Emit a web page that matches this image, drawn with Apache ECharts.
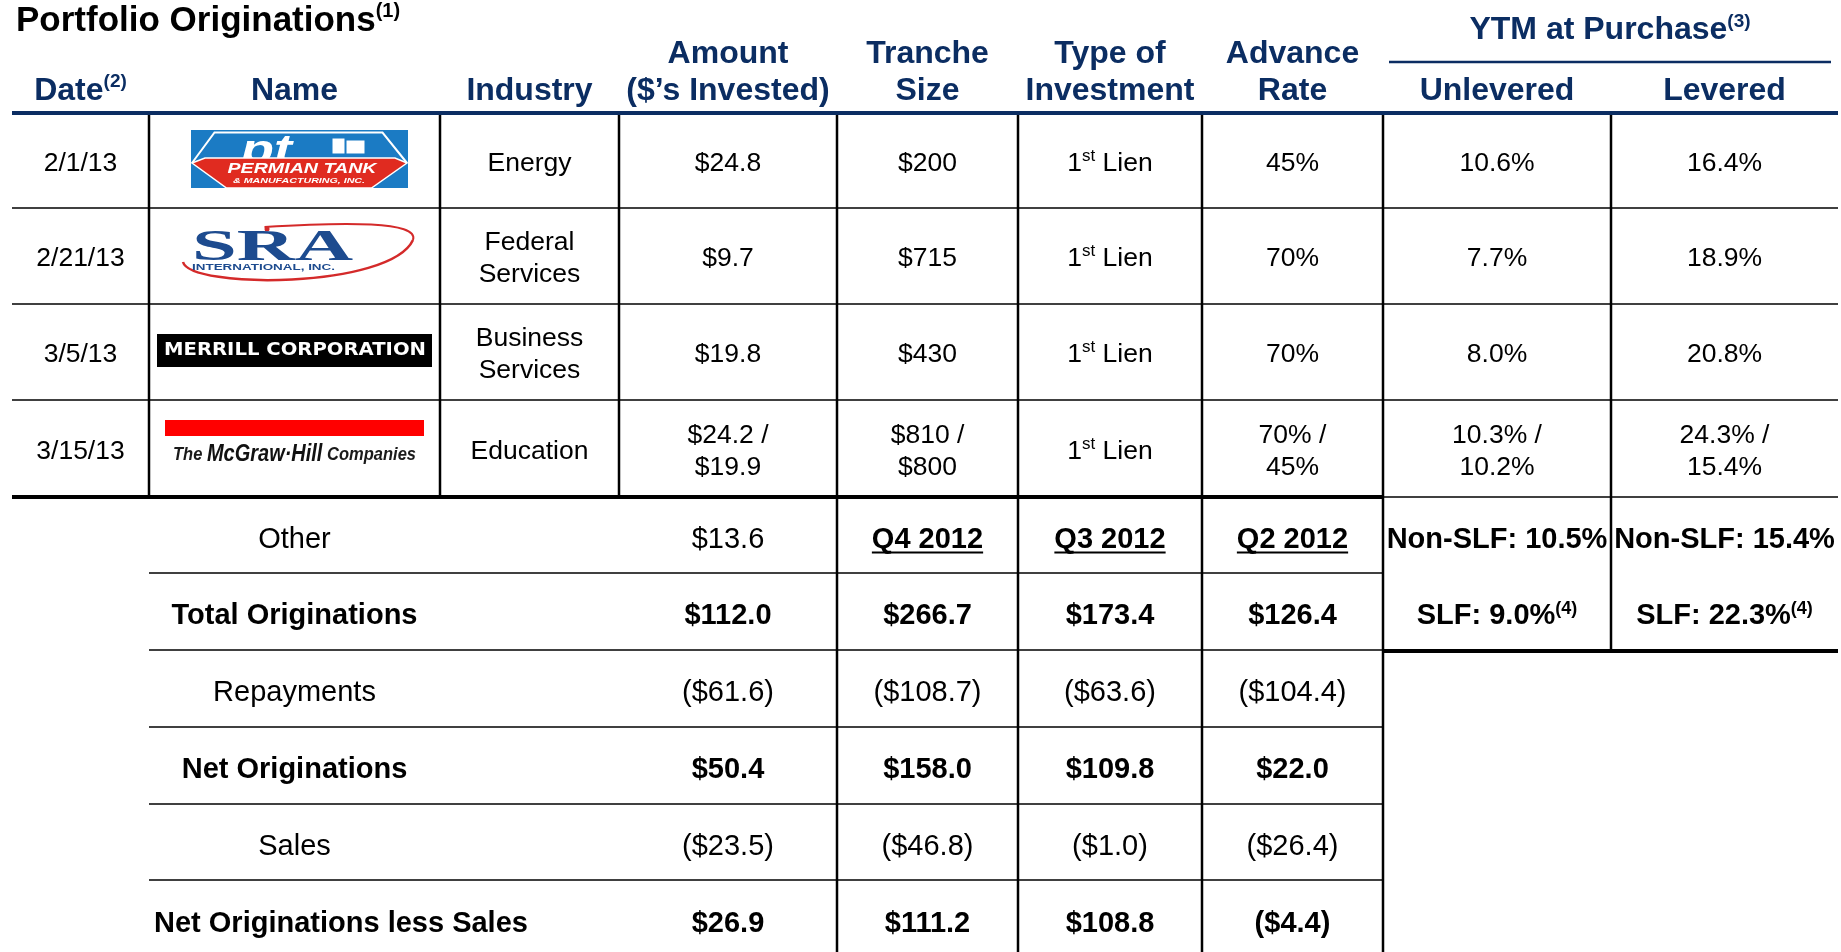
<!DOCTYPE html>
<html>
<head>
<meta charset="utf-8">
<title>Portfolio Originations</title>
<script src="https://cdn.jsdelivr.net/npm/echarts@6/dist/echarts.min.js"></script>
<style>
  html, body { margin: 0; padding: 0; background: #fff; }
  #main { width: 1841px; height: 952px; }
</style>
</head>
<body>
<div id="main"></div>
<script>
// ---- table content ----
var title = 'Portfolio Originations{sup|(1)}';
var ytmHeader = 'YTM at Purchase{sup|(3)}';
var headers = ['Date{sup|(2)}', 'Name', 'Industry', 'Amount\n($\u2019s Invested)', 'Tranche\nSize',
  'Type of\nInvestment', 'Advance\nRate', 'Unlevered', 'Levered'];

var dates = ['2/1/13', '2/21/13', '3/5/13', '3/15/13'];
var names = ['Permian Tank', 'SRA International', 'Merrill Corporation', 'McGraw-Hill'];
var industries = ['Energy', 'Federal\nServices', 'Business\nServices', 'Education'];
var amounts = ['$24.8', '$9.7', '$19.8', '$24.2 /\n$19.9'];
var tranches = ['$200', '$715', '$430', '$810 /\n$800'];
var investTypes = ['1{sup|st} Lien', '1{sup|st} Lien', '1{sup|st} Lien', '1{sup|st} Lien'];
var advanceRates = ['45%', '70%', '70%', '70% /\n45%'];
var unlevered = ['10.6%', '7.7%', '8.0%', '10.3% /\n10.2%'];
var levered = ['16.4%', '18.9%', '20.8%', '24.3% /\n15.4%'];

var quarters = ['Q4 2012', 'Q3 2012', 'Q2 2012'];
var summaryLabels = ['Other', 'Total Originations', 'Repayments', 'Net Originations', 'Sales', 'Net Originations less Sales'];
var summaryBold = [false, true, false, true, false, true];
var summaryCurrent = ['$13.6', '$112.0', '($61.6)', '$50.4', '($23.5)', '$26.9'];
var summaryQ4 = [null, '$266.7', '($108.7)', '$158.0', '($46.8)', '$111.2'];
var summaryQ3 = [null, '$173.4', '($63.6)', '$109.8', '($1.0)', '$108.8'];
var summaryQ2 = [null, '$126.4', '($104.4)', '$22.0', '($26.4)', '($4.4)'];
var ytmUnleveredSplit = ['Non-SLF: 10.5%', 'SLF: 9.0%{sup|(4)}'];
var ytmLeveredSplit = ['Non-SLF: 15.4%', 'SLF: 22.3%{sup|(4)}'];

// ---- layout ----
var FONT = '"Liberation Sans", Arial, Helvetica, sans-serif';
var NAVY = '#0B2D62';
var W = 1841, H = 952;
var colEdges = [12, 149, 440, 619, 837, 1018, 1202, 1383, 1611, 1838];
var bodyRows = [113, 208, 304, 400, 497];
var sumRows = [497, 573, 650, 727, 804, 880, 958];
function colMid(i) { return (colEdges[i] + colEdges[i + 1]) / 2; }
function mid(arr, i) { return (arr[i] + arr[i + 1]) / 2; }
var TEXT_DY = 3;

var measureCtx = document.createElement('canvas').getContext('2d');
function textWidth(str, size, weight, style, family) {
  measureCtx.font = (style || 'normal') + ' ' + (weight || 'normal') + ' ' + size + 'px ' + (family || FONT);
  return measureCtx.measureText(str).width;
}

// text cells
var cells = [];
function addCell(x, y, text, o) {
  o = o || {};
  cells.push({
    x: x, y: y + TEXT_DY, text: text,
    size: o.size || 27, bold: !!o.bold, color: o.color || '#000',
    align: o.align || 'center', lh: o.lh || 32, supSize: o.supSize || 17,
    underline: !!o.underline
  });
}

addCell(16, 18, title, { size: 35, bold: true, align: 'left', lh: 40, supSize: 20 });
addCell((1389 + 1831) / 2, 27, ytmHeader, { size: 32, bold: true, color: NAVY, lh: 36, supSize: 19 });
headers.forEach(function (h, i) {
  var n = h.split('\n').length;
  addCell(colMid(i), 88 - (n - 1) * 18.5, h, { size: 32, bold: true, color: NAVY, lh: 37, supSize: 19 });
});

for (var r = 0; r < dates.length; r++) {
  var y = mid(bodyRows, r);
  [dates, null, industries, amounts, tranches, investTypes, advanceRates, unlevered, levered].forEach(function (arr, c) {
    if (arr) addCell(colMid(c), y, arr[r], { size: 26.5 });
  });
}

summaryLabels.forEach(function (lab, r) {
  var y = mid(sumRows, r) + 1.5;
  var bw = summaryBold[r] ? 'bold' : 'normal';
  var wide = textWidth(lab, 29, bw) > colEdges[2] - colEdges[1] - 10;
  addCell(wide ? colEdges[1] + 5 : colMid(1), y, lab, { size: 29, bold: summaryBold[r], align: wide ? 'left' : 'center' });
  addCell(colMid(3), y, summaryCurrent[r], { size: 29, bold: summaryBold[r] });
  [summaryQ4, summaryQ3, summaryQ2].forEach(function (arr, q) {
    if (arr[r] != null) addCell(colMid(4 + q), y, arr[r], { size: 29, bold: summaryBold[r] });
    else addCell(colMid(4 + q), y, quarters[q], { size: 29, bold: true, underline: true });
  });
});
ytmUnleveredSplit.forEach(function (t, r) { addCell(colMid(7), mid(sumRows, r) + 1.5, t, { size: 29, bold: true, supSize: 18 }); });
ytmLeveredSplit.forEach(function (t, r) { addCell(colMid(8), mid(sumRows, r) + 1.5, t, { size: 29, bold: true, supSize: 18 }); });

// grid lines
var segs = [], segStyle = [];
function seg(x1, y1, x2, y2, w, color) { segs.push([x1, y1, x2, y2]); segStyle.push({ w: w, color: color || '#000' }); }
seg(colEdges[0], 113, colEdges[9], 113, 4, NAVY);
seg(1389, 62, 1831, 62, 2.5, NAVY);
[208, 304, 400].forEach(function (yy) { seg(colEdges[0], yy, colEdges[9], yy, 1.5); });
seg(colEdges[0], 497, colEdges[7], 497, 4);
seg(colEdges[7], 497, colEdges[9], 497, 1.5);
for (var c = 1; c <= 8; c++) seg(colEdges[c], 115, colEdges[c], 497, 2.5);
[4, 5, 6, 7].forEach(function (c) { seg(colEdges[c], 497, colEdges[c], H, 2.5); });
seg(colEdges[8], 497, colEdges[8], 651, 2.5);
[573, 650, 727, 804, 880].forEach(function (yy) { seg(colEdges[1], yy, colEdges[7], yy, 1.5); });
seg(colEdges[7], 651, colEdges[9], 651, 4);

// ---- logos (decoration drawn relative to the Name cell centre) ----
function fit(str, size, weight, style, family, target) {
  return target / textWidth(str, size, weight, style, family);
}
var logoDrawers = {
  'Permian Tank': function (cx, cy) {
    var blue = '#1B7BC4';
    return [
      { type: 'rect', shape: { x: cx - 103.5, y: cy - 30.5, width: 217, height: 58 }, style: { fill: blue } },
      { type: 'polyline', shape: { points: [[cx - 102.5, cy + 2.5], [cx - 80, cy - 28], [cx + 88, cy - 28], [cx + 112.5, cy + 2.5]] }, style: { stroke: '#fff', lineWidth: 2, fill: null } },
      { type: 'text', x: cx - 28, y: cy - 9, scaleX: 1.35,
        style: { text: 'pt', fill: '#fff', stroke: blue, lineWidth: 1, fontSize: 40, fontWeight: 'bold', fontStyle: 'italic', fontFamily: FONT, align: 'center', verticalAlign: 'middle' } },
      { type: 'polygon', shape: { points: [[cx - 102.5, cy + 2.5], [cx - 89.5, cy - 2.5], [cx + 100.5, cy - 2.5], [cx + 112.5, cy + 2.5], [cx + 77, cy + 27.5], [cx - 68, cy + 27.5]] },
        style: { fill: '#E02B20', stroke: '#fff', lineWidth: 1.5 } },
      { type: 'rect', shape: { x: cx + 38, y: cy - 22, width: 12, height: 15 }, style: { fill: '#fff' } },
      { type: 'rect', shape: { x: cx + 52, y: cy - 20, width: 18, height: 13 }, style: { fill: '#fff' } },
      { type: 'text', x: cx + 7.5, y: cy + 8.5, scaleX: fit('PERMIAN TANK', 15, 'bold', 'italic', FONT, 149),
        style: { text: 'PERMIAN TANK', fill: '#fff', fontSize: 15, fontWeight: 'bold', fontStyle: 'italic', fontFamily: FONT, align: 'center', verticalAlign: 'middle' } },
      { type: 'text', x: cx + 4.5, y: cy + 20.5, scaleX: fit('& MANUFACTURING, INC.', 8, 'bold', 'italic', FONT, 132),
        style: { text: '& MANUFACTURING, INC.', fill: '#fff', fontSize: 8, fontWeight: 'bold', fontStyle: 'italic', fontFamily: FONT, align: 'center', verticalAlign: 'middle' } }
    ];
  },
  'SRA International': function (cx, cy) {
    var red = '#D42A2A', blue = '#1D4B8F', serif = '"Liberation Serif", "Times New Roman", serif';
    return [
      { type: 'bezierCurve', shape: { x1: cx - 111.5, y1: cy + 6, cpx1: cx - 104.5, cpy1: cy + 33, cpx2: cx + 95.5, cpy2: cy + 33, x2: cx + 118.5, y2: cy - 16 },
        style: { stroke: red, lineWidth: 2.5, fill: null } },
      { type: 'bezierCurve', shape: { x1: cx + 118.5, y1: cy - 16, cpx1: cx + 125, cpy1: cy - 35, cpx2: cx + 50, cpy2: cy - 34, x2: cx - 30, y2: cy - 29 },
        style: { stroke: red, lineWidth: 2, fill: null } },
      { type: 'circle', shape: { cx: cx - 27.5, cy: cy - 27, r: 2.5 }, style: { fill: red } },
      { type: 'text', x: cx - 22, y: cy - 7, scaleX: fit('SRA', 44, 'bold', 'normal', serif, 161),
        style: { text: 'SRA', fill: blue, fontSize: 44, fontWeight: 'bold', fontFamily: serif, align: 'center', verticalAlign: 'middle' } },
      { type: 'text', x: cx - 31, y: cy + 12, scaleX: fit('INTERNATIONAL, INC.', 9, 'bold', 'normal', FONT, 143),
        style: { text: 'INTERNATIONAL, INC.', fill: blue, fontSize: 9, fontWeight: 'bold', fontFamily: FONT, align: 'center', verticalAlign: 'middle' } }
    ];
  },
  'Merrill Corporation': function (cx, cy) {
    var fam = '"DejaVu Sans", sans-serif';
    return [
      { type: 'rect', shape: { x: cx - 137.5, y: cy - 18, width: 275, height: 33 }, style: { fill: '#000' } },
      { type: 'text', x: cx + 0.5, y: cy - 1, scaleX: fit('MERRILL CORPORATION', 17, 'bold', 'normal', fam, 262),
        style: { text: 'MERRILL CORPORATION', fill: '#fff', fontSize: 17, fontWeight: 'bold', fontFamily: fam, align: 'center', verticalAlign: 'middle' } }
    ];
  },
  'McGraw-Hill': function (cx, cy) {
    var w = textWidth('The ', 19, 'bold', 'italic') + textWidth('McGraw\u00B7Hill', 23, 'bold', 'italic') + textWidth(' Companies', 19, 'bold', 'italic');
    return [
      { type: 'rect', shape: { x: cx - 129.5, y: cy - 28.5, width: 259, height: 16 }, style: { fill: '#FF0000' } },
      { type: 'text', x: cx, y: cy + 6, scaleX: 243 / w,
        style: { text: '{a|The }{b|McGraw\u00B7Hill}{a| Companies}', align: 'center', verticalAlign: 'middle',
          rich: {
            a: { fontSize: 19, fontStyle: 'italic', fontWeight: 'bold', fontFamily: FONT, fill: '#1a1a1a' },
            b: { fontSize: 23, fontStyle: 'italic', fontWeight: 'bold', fontFamily: FONT, fill: '#111' }
          } } }
    ];
  }
};

var logoData = names.map(function (n, i) { return [colMid(1), mid(bodyRows, i)]; });

// ---- chart ----
var chart = echarts.init(document.getElementById('main'));

function renderText(params, api) {
  var cell = cells[params.dataIndex];
  var p = api.coord([api.value(0), api.value(1)]);
  var weight = cell.bold ? 'bold' : 'normal';
  var children = [{
    type: 'text', x: p[0], y: p[1],
    style: {
      text: cell.text, fill: cell.color, fontSize: cell.size, fontWeight: weight, fontFamily: FONT,
      align: cell.align, verticalAlign: 'middle', lineHeight: cell.lh,
      rich: {
        sup: { fontSize: cell.supSize, fontWeight: weight, fontFamily: FONT, fill: cell.color,
          verticalAlign: 'top', lineHeight: cell.supSize + 3 }
      }
    }
  }];
  if (cell.underline) {
    var tw = textWidth(cell.text, cell.size, weight);
    children.push({ type: 'line', shape: { x1: p[0] - tw / 2, y1: p[1] + 13, x2: p[0] + tw / 2, y2: p[1] + 13 },
      style: { stroke: cell.color, lineWidth: 2 } });
  }
  return { type: 'group', children: children };
}

var option = {
  animation: false,
  grid: { left: 0, right: 0, top: 0, bottom: 0 },
  xAxis: { type: 'value', min: 0, max: W, show: false },
  yAxis: { type: 'value', min: 0, max: H, inverse: true, show: false },
  series: [
    {
      type: 'custom', name: 'grid lines', silent: true, clip: false,
      encode: { x: [0, 2], y: [1, 3] },
      data: segs,
      renderItem: function (params, api) {
        var a = api.coord([api.value(0), api.value(1)]);
        var b = api.coord([api.value(2), api.value(3)]);
        var s = segStyle[params.dataIndex];
        return { type: 'line', shape: { x1: a[0], y1: a[1], x2: b[0], y2: b[1] }, style: { stroke: s.color, lineWidth: s.w } };
      }
    },
    {
      type: 'custom', name: 'logos', silent: true, clip: false,
      encode: { x: 0, y: 1 },
      data: logoData,
      renderItem: function (params, api) {
        var p = api.coord([api.value(0), api.value(1)]);
        return { type: 'group', children: logoDrawers[names[params.dataIndex]](p[0], p[1]) };
      }
    },
    {
      type: 'custom', name: 'cells', silent: true, clip: false,
      encode: { x: 0, y: 1 },
      data: cells.map(function (c) { return [c.x, c.y]; }),
      renderItem: renderText
    }
  ]
};
chart.setOption(option);
</script>
</body>
</html>
